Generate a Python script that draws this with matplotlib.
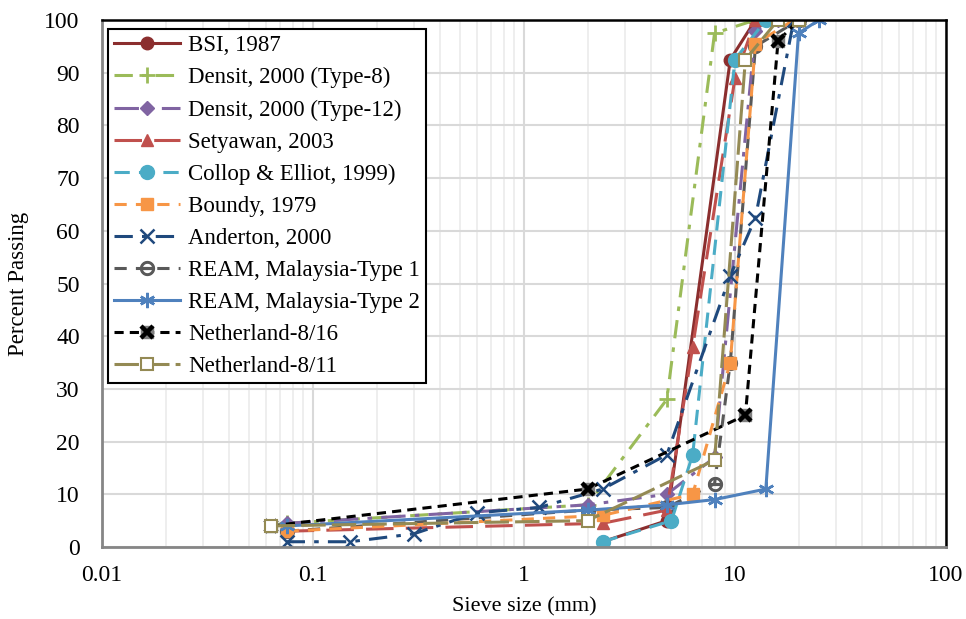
import numpy as np
import matplotlib
matplotlib.use('Agg')
import matplotlib.pyplot as plt
from matplotlib.ticker import FixedLocator, NullFormatter

plt.rcParams['font.family'] = ['Liberation Serif', 'DejaVu Serif']

# sieve sizes (mm) and percent passing for each gradation
bsi_x = [2.36, 4.75, 9.5, 12.5]
bsi_y = [1, 5, 92.5, 100]

densit8_x = [0.075, 2, 4.75, 8, 12.5]
densit8_y = [4.5, 8, 28, 97.5, 100]

densit12_x = [0.075, 2, 4.75, 8, 12.5, 16]
densit12_y = [4.5, 8, 10, 17, 98, 100]

setyawan_x = [0.075, 2.36, 4.75, 6.3, 10, 12.5]
setyawan_y = [3, 4.5, 7, 38, 89, 100]

collop_x = [2.36, 5, 6.3, 10, 14]
collop_y = [1, 5, 17.5, 92.5, 100]

boundy_x = [0.075, 2.36, 6.3, 9.5, 12.5, 19]
boundy_y = [3, 6, 10, 35, 95.5, 100]

anderton_x = [0.075, 0.15, 0.3, 0.6, 1.18, 2.36, 4.75, 9.5, 12.5, 19]
anderton_y = [1, 1, 2.5, 6.5, 7.5, 11, 17.5, 51.5, 62.5, 100]

ream1_x = [0.075, 2, 4.75, 8, 9.5, 12.5, 20]
ream1_y = [3, 7, 7.5, 12, 35, 95, 100]

ream2_x = [0.075, 2, 4.75, 8, 14, 20, 25]
ream2_y = [4, 7, 8, 9, 11, 97.5, 100]

nl816_x = [0.063, 2, 11.2, 16, 20]
nl816_y = [4, 11, 25, 96, 100]

nl811_x = [0.063, 2, 8, 11.2, 16, 20]
nl811_y = [4, 5, 16.5, 92.5, 100, 100]

fig = plt.figure(figsize=(9.66, 6.19), dpi=100)
ax = fig.add_axes([0.1056, 0.1163, 0.8737, 0.8514])

ms = 9
# gray REAM-1 line goes first so the other markers sit on top of it
h_r1, = ax.plot(ream1_x, ream1_y, color='#595959', ls=(0, (4, 3)), lw=2.2,
                marker='$\\ominus$', ms=10)
h_bsi, = ax.plot(bsi_x, bsi_y, color='#8B2E2E', ls='-', lw=2.2, marker='o', ms=ms)
h_d8, = ax.plot(densit8_x, densit8_y, color='#9BBB59', ls=(0, (6, 3, 1.5, 3)), lw=2.2,
                marker='+', ms=11, mew=2)
h_d12, = ax.plot(densit12_x, densit12_y, color='#8064A2', ls=(0, (8, 3, 1.5, 3)), lw=2.2,
                 marker='D', ms=7)
h_set, = ax.plot(setyawan_x, setyawan_y, color='#C0504D', ls=(0, (9, 4)), lw=2.2,
                 marker='^', ms=ms)
h_col, = ax.plot(collop_x, collop_y, color='#4BACC6', ls=(0, (5, 3)), lw=2.2,
                 marker='o', ms=ms + 1)
h_bou, = ax.plot(boundy_x, boundy_y, color='#F79646', ls=(0, (4, 3)), lw=2.2,
                 marker='s', ms=ms)
h_and, = ax.plot(anderton_x, anderton_y, color='#1F497D', ls=(0, (6, 3, 1.5, 3)), lw=2.2,
                 marker='x', ms=10, mew=1.8)
h_r2, = ax.plot(ream2_x, ream2_y, color='#4F81BD', ls='-', lw=2.2,
                marker=(6, 2, 0), ms=11, mew=1.8)
h_n16a, = ax.plot(nl816_x, nl816_y, color='black', ls=(0, (3, 2)), lw=2.2,
                  marker='s', ms=9, mfc='#7F7F7F', mec='#7F7F7F')
h_n16b, = ax.plot(nl816_x, nl816_y, ls='none', marker='x', ms=8, mew=3.2, color='black')
h_n11, = ax.plot(nl811_x, nl811_y, color='#948A54', ls=(0, (8, 2)), lw=2.2,
                 marker='s', ms=9, mfc='white', mew=1.5)

ax.set_xscale('log')
ax.set_xlim(0.01, 100)
ax.set_ylim(0, 100)
ax.xaxis.set_major_locator(FixedLocator([0.01, 0.1, 1, 10, 100]))
ax.set_xticklabels(['0.01', '0.1', '1', '10', '100'])
ax.xaxis.set_minor_locator(FixedLocator([m * d for d in [0.01, 0.1, 1, 10] for m in range(2, 10)]))
ax.xaxis.set_minor_formatter(NullFormatter())
ax.set_yticks(np.arange(0, 101, 10))

ax.grid(True, which='major', color='#D9D9D9', lw=1.5)
ax.grid(True, which='minor', axis='x', color='#EBEBEB', lw=1.2)
ax.set_axisbelow(True)
ax.tick_params(which='both', length=0, labelsize=17)
ax.tick_params(axis='y', pad=16)
ax.tick_params(axis='x', pad=13)

for s in ['left', 'bottom']:
    ax.spines[s].set_color('#868686')
    ax.spines[s].set_linewidth(2)
for s in ['top', 'right']:
    ax.spines[s].set_color('black')
    ax.spines[s].set_linewidth(1.8)

ax.set_xlabel('Sieve size (mm)', fontsize=16, labelpad=8)
ax.set_ylabel('Percent Passing', fontsize=16.5, labelpad=11)

handles = [h_bsi, h_d8, h_d12, h_set, h_col, h_bou, h_and, h_r1, h_r2, (h_n16a, h_n16b), h_n11]
labels = ['BSI, 1987', 'Densit, 2000 (Type-8)', 'Densit, 2000 (Type-12)', 'Setyawan, 2003',
          'Collop & Elliot, 1999)', 'Boundy, 1979', 'Anderton, 2000',
          'REAM, Malaysia-Type 1', 'REAM, Malaysia-Type 2', 'Netherland-8/16', 'Netherland-8/11']
leg = ax.legend(handles, labels, loc='upper left', bbox_to_anchor=(0.007, 0.982),
                borderaxespad=0, fontsize=16.5, handlelength=2.9, labelspacing=0.48,
                fancybox=False, framealpha=1, edgecolor='black', borderpad=0.25,
                handletextpad=0.35)
leg.get_frame().set_linewidth(1.5)

fig.savefig('out.png', dpi=100)
